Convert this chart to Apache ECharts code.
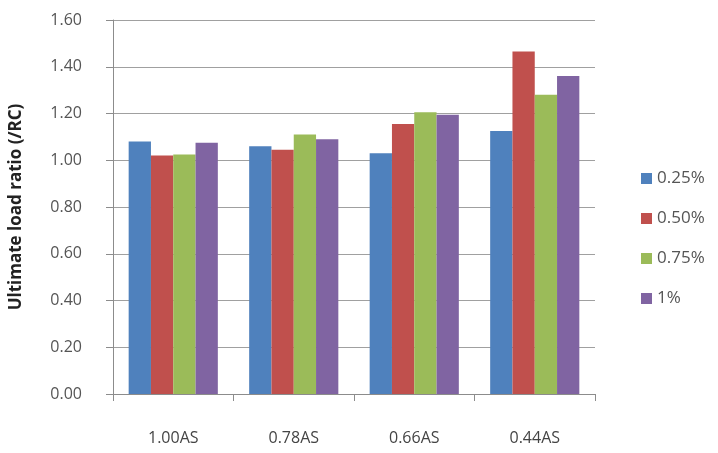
<!DOCTYPE html>
<html>
<head>
<meta charset="utf-8">
<script src="https://cdn.jsdelivr.net/npm/echarts@6/dist/echarts.min.js"></script>
<style>
  html, body { margin: 0; padding: 0; background: #fff; }
  #chart { width: 718px; height: 453px; }
</style>
</head>
<body>
<div id="chart"></div>
<script>
// 数据
var categories = ['1.00AS', '0.78AS', '0.66AS', '0.44AS']
var seriesNames = ['0.25%', '0.50%', '0.75%', '1%']
var s025 = [1.08, 1.06, 1.03, 1.125]
var s050 = [1.02, 1.045, 1.155, 1.465]
var s075 = [1.025, 1.11, 1.205, 1.28]
var s100 = [1.075, 1.09, 1.195, 1.36]
var yTicks = { min: 0, max: 1.6, interval: 0.2 }

var colors = ['#4F81BD', '#C0504D', '#9BBB59', '#8064A2']
var values = [s025, s050, s075, s100]

var myChart = echarts.init(document.getElementById('chart'))
var series = []
for (var i = 0; i < seriesNames.length; i++) {
  series.push({
    name: seriesNames[i],
    type: 'bar',
    data: values[i],
    barGap: '0%',
    barCategoryGap: '26%',
    itemStyle: { color: colors[i] }
  })
}

var option = {
  animation: false,
  backgroundColor: '#fff',
  textStyle: { fontFamily: 'Open Sans' },
  color: colors,
  grid: { left: 113, right: 123, top: 20, bottom: 59 },
  legend: {
    orient: 'vertical',
    left: 636,
    top: 165,
    itemWidth: 11,
    itemHeight: 11,
    itemGap: 23,
    icon: 'rect',
    textStyle: { fontSize: 17, color: '#555', padding: [3, 0, 0, 0] },
    data: seriesNames
  },
  xAxis: {
    type: 'category',
    data: categories,
    axisLine: { lineStyle: { color: '#8c8c8c' } },
    axisTick: { show: true, length: 7, lineStyle: { color: '#8c8c8c' } },
    axisLabel: { margin: 36, fontSize: 16, color: '#444' }
  },
  yAxis: {
    type: 'value',
    min: yTicks.min,
    max: yTicks.max,
    interval: yTicks.interval,
    name: 'Ultimate load ratio (/RC)',
    nameLocation: 'middle',
    nameGap: 88,
    nameTextStyle: { fontSize: 17, fontWeight: 'bold', color: '#222' },
    axisLine: { show: true, lineStyle: { color: '#8c8c8c' } },
    axisTick: { show: true, length: 7, lineStyle: { color: '#8c8c8c' } },
    splitLine: { lineStyle: { color: '#a0a0a0' } },
    axisLabel: {
      margin: 31,
      fontSize: 16,
      color: '#555',
      formatter: function (v) { return v.toFixed(2) }
    }
  },
  series: series
}
myChart.setOption(option)
</script>
</body>
</html>
